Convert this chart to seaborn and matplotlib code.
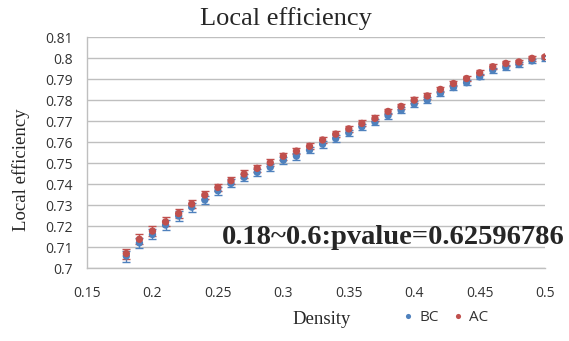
import matplotlib
matplotlib.use("Agg")
import matplotlib.pyplot as plt
import seaborn as sns
import pandas as pd

density = [0.18, 0.19, 0.20, 0.21, 0.22, 0.23, 0.24, 0.25, 0.26, 0.27, 0.28,
           0.29, 0.30, 0.31, 0.32, 0.33, 0.34, 0.35, 0.36, 0.37, 0.38, 0.39,
           0.40, 0.41, 0.42, 0.43, 0.44, 0.45, 0.46, 0.47, 0.48, 0.49, 0.50]
bc = [0.7057, 0.7120, 0.7160, 0.7205, 0.7248, 0.7290, 0.7324, 0.7368, 0.7403, 0.7432, 0.7456,
      0.7480, 0.7514, 0.7533, 0.7562, 0.7590, 0.7617, 0.7644, 0.7673, 0.7695, 0.7726, 0.7751,
      0.7781, 0.7800, 0.7832, 0.7860, 0.7883, 0.7911, 0.7943, 0.7956, 0.7970, 0.7987, 0.7999]
ac = [0.7069, 0.7137, 0.7176, 0.7220, 0.7260, 0.7305, 0.7348, 0.7384, 0.7416, 0.7448, 0.7475,
      0.7502, 0.7533, 0.7557, 0.7580, 0.7610, 0.7638, 0.7663, 0.7689, 0.7713, 0.7746, 0.7770,
      0.7800, 0.7820, 0.7851, 0.7879, 0.7903, 0.7930, 0.7959, 0.7975, 0.7982, 0.7999, 0.8006]
bc_err = [0.0026, 0.0025, 0.0024, 0.0023, 0.0022, 0.0021, 0.0020, 0.0019, 0.0019, 0.0018, 0.0018,
          0.0017, 0.0017, 0.0016, 0.0016, 0.0016, 0.0015, 0.0015, 0.0015, 0.0014, 0.0014, 0.0014,
          0.0013, 0.0013, 0.0013, 0.0013, 0.0012, 0.0012, 0.0012, 0.0012, 0.0011, 0.0011, 0.0011]
ac_err = [0.0024, 0.0023, 0.0022, 0.0021, 0.0020, 0.0020, 0.0019, 0.0018, 0.0018, 0.0017, 0.0017,
          0.0016, 0.0016, 0.0016, 0.0015, 0.0015, 0.0015, 0.0014, 0.0014, 0.0014, 0.0013, 0.0013,
          0.0013, 0.0013, 0.0012, 0.0012, 0.0012, 0.0012, 0.0011, 0.0011, 0.0011, 0.0011, 0.0011]
series_names = ["BC", "AC"]
x_ticks = [0.15, 0.2, 0.25, 0.3, 0.35, 0.4, 0.45, 0.5]
x_tick_labels = ["0.15", "0.2", "0.25", "0.3", "0.35", "0.4", "0.45", "0.5"]
y_ticks = [0.70, 0.71, 0.72, 0.73, 0.74, 0.75, 0.76, 0.77, 0.78, 0.79, 0.80, 0.81]
y_tick_labels = ["0.7", "0.71", "0.72", "0.73", "0.74", "0.75", "0.76", "0.77", "0.78", "0.79", "0.8", "0.81"]
annotation = "0.18~0.6:pvalue=0.62596786"

df = pd.DataFrame({
    "Density": density * 2,
    "value": bc + ac,
    "err": bc_err + ac_err,
    "group": [series_names[0]] * len(density) + [series_names[1]] * len(density),
})

sns.set_style("white")
plt.rcParams["font.family"] = ["Open Sans", "DejaVu Sans"]

colors = {"BC": "#4F81BD", "AC": "#C0504D"}
fig = plt.figure(figsize=(5.69, 3.41), dpi=100)
ax = fig.add_axes([0.153, 0.214, 0.805, 0.677])

for name in series_names:
    sub = df[df["group"] == name]
    ax.errorbar(sub["Density"], sub["value"], yerr=sub["err"], fmt="none",
                ecolor=colors[name], elinewidth=1.0, capsize=3, capthick=1.0, zorder=2)
sns.scatterplot(data=df, x="Density", y="value", hue="group", palette=colors,
                marker="o", s=28, edgecolor="none", ax=ax, zorder=3)

ax.set_xlim(0.15, 0.5)
ax.set_ylim(0.70, 0.81)
ax.set_xticks(x_ticks)
ax.set_xticklabels(x_tick_labels, fontsize=10, color="#333333")
ax.set_yticks(y_ticks)
ax.set_yticklabels(y_tick_labels, fontsize=10, color="#333333")
ax.tick_params(axis="x", length=0, pad=13)
ax.tick_params(axis="y", length=0, pad=10)
ax.grid(axis="y", color="#BFBFBF", linewidth=1.0)
ax.grid(axis="x", visible=False)
for s in ["top", "right"]:
    ax.spines[s].set_visible(False)
for s in ["left", "bottom"]:
    ax.spines[s].set_color("#BFBFBF")
    ax.spines[s].set_linewidth(1.0)

fig.text(286 / 569, 1 - 19 / 341, "Local efficiency", family="Liberation Serif",
         fontsize=19, ha="center", va="center")
fig.text(322 / 569, 1 - 320 / 341, "Density", family="Liberation Serif",
         fontsize=13.5, ha="center", va="center")
fig.text(21 / 569, 1 - 170 / 341, "Local efficiency", family="Liberation Serif",
         fontsize=13.5, ha="center", va="center", rotation=90)
ax.set_xlabel("")
ax.set_ylabel("")

fig.text(222 / 569, 1 - 237 / 341, annotation, family="Liberation Serif",
         fontweight="bold", fontsize=20.5, va="center", ha="left")

leg = ax.legend(loc="center left", bbox_to_anchor=(0.645, -0.215), ncol=2, frameon=False,
                fontsize=11, handletextpad=-0.1, columnspacing=0.5, markerscale=0.7,
                handlelength=1.6, title=None)
for t in leg.get_texts():
    t.set_color("#333333")

fig.savefig("out.png", dpi=100)
